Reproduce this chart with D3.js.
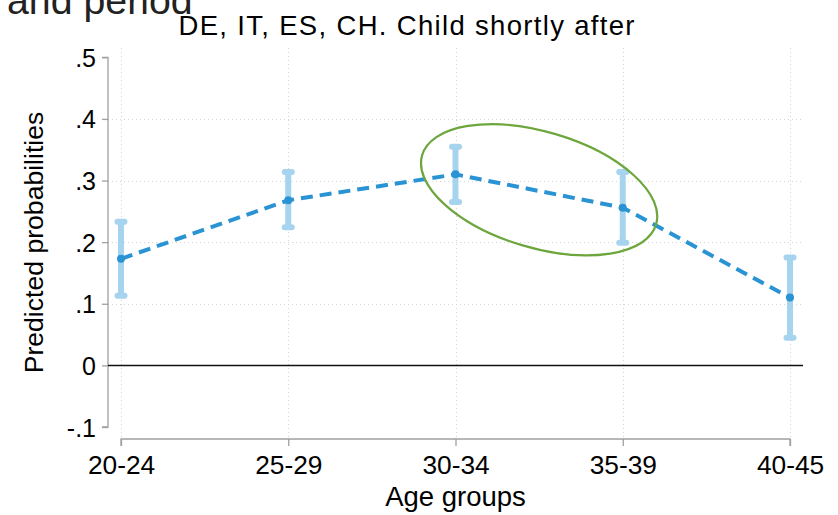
<!DOCTYPE html>
<html>
<head>
<meta charset="utf-8">
<script src="https://cdn.jsdelivr.net/npm/d3@7"></script>
<style>
  html, body { margin: 0; padding: 0; background: #fff; }
  svg { display: block; font-family: "Liberation Sans", Arial, Helvetica, sans-serif; }
</style>
</head>
<body>
<svg id="chart" width="838" height="515"></svg>
<script>
// Predicted probability of a child shortly after, by age group
const ageGroups = ["20-24", "25-29", "30-34", "35-39", "40-45"];
const predicted = [0.173, 0.268, 0.310, 0.256, 0.110];
const ciLower   = [0.113, 0.224, 0.265, 0.199, 0.045];
const ciUpper   = [0.233, 0.314, 0.355, 0.314, 0.175];
const yTicks = [-0.1, 0, 0.1, 0.2, 0.3, 0.4, 0.5];
const yGrid  = [0.1, 0.2, 0.3, 0.4];
// highlighted groups (encircled)
const highlight = ["30-34", "35-39"];
const highlightValue = 0.285;

const svg = d3.select("#chart");
const font = "Liberation Sans, Arial, sans-serif";

const plot = { left: 108, right: 803, top: 48, bottom: 439 };

const x = d3.scalePoint().domain(ageGroups).range([121, 790]);
const y = d3.scaleLinear().domain([-0.1, 0.5]).range([427, 57.3]);

// Stata-style labels: ".1", "-.1", "0"
const fmt = v => v === 0 ? "0" : d3.format(".1f")(Math.abs(v)).replace(/^0\./, ".").replace(/^/, v < 0 ? "-" : "");

// gridlines
const grid = svg.append("g").attr("stroke", "#d4d4d4").attr("stroke-width", 1)
  .attr("stroke-dasharray", "1,3");
grid.selectAll("line.h").data(yGrid).join("line")
  .attr("x1", plot.left).attr("x2", plot.right)
  .attr("y1", d => Math.round(y(d)) + 0.5).attr("y2", d => Math.round(y(d)) + 0.5);
grid.selectAll("line.v").data(ageGroups).join("line")
  .attr("x1", d => Math.round(x(d)) + 0.5).attr("x2", d => Math.round(x(d)) + 0.5)
  .attr("y1", plot.top).attr("y2", plot.bottom);

// y axis
const yAxis = d3.axisLeft(y).tickValues(yTicks).tickFormat(fmt).tickSize(6).tickPadding(6);
const gy = svg.append("g").attr("transform", `translate(${plot.left},0)`).call(yAxis);
gy.select(".domain").attr("stroke", "#a0a0a0").attr("stroke-width", 1.3)
  .attr("d", `M-6,${y(0.5)}H0V${y(-0.1)}H-6`);
gy.selectAll(".tick line").attr("stroke", "#a0a0a0").attr("stroke-width", 1.3);
gy.selectAll(".tick text").attr("fill", "#000").attr("font-size", 25)
  .attr("font-family", font).attr("dy", "0.36em");

// x axis
const xAxis = d3.axisBottom(x).tickSize(7).tickPadding(9);
const gx = svg.append("g").attr("transform", `translate(0,${plot.bottom})`).call(xAxis);
gx.select(".domain").attr("stroke", "#a0a0a0").attr("stroke-width", 1.3)
  .attr("d", `M${x(ageGroups[0])},7V0H${x(ageGroups[ageGroups.length-1])}V7`);
gx.selectAll(".tick line").attr("stroke", "#a0a0a0").attr("stroke-width", 1.3);
gx.selectAll(".tick text").attr("fill", "#000").attr("font-size", 26.3)
  .attr("font-family", font);

// zero reference line
svg.append("line")
  .attr("x1", plot.left).attr("x2", plot.right)
  .attr("y1", y(0)).attr("y2", y(0))
  .attr("stroke", "#111").attr("stroke-width", 1.5);

// confidence intervals
const ciColor = "#a6d3ee";
const ci = svg.append("g").attr("stroke", ciColor).attr("stroke-width", 6);
ci.selectAll("line.bar").data(ageGroups).join("line")
  .attr("x1", d => x(d)).attr("x2", d => x(d))
  .attr("y1", (d, i) => y(ciLower[i])).attr("y2", (d, i) => y(ciUpper[i]));
ci.selectAll("line.capU").data(ageGroups).join("line")
  .attr("stroke-linecap", "round")
  .attr("x1", d => x(d) - 3.5).attr("x2", d => x(d) + 3.5)
  .attr("y1", (d, i) => y(ciUpper[i])).attr("y2", (d, i) => y(ciUpper[i]));
ci.selectAll("line.capL").data(ageGroups).join("line")
  .attr("stroke-linecap", "round")
  .attr("x1", d => x(d) - 3.5).attr("x2", d => x(d) + 3.5)
  .attr("y1", (d, i) => y(ciLower[i])).attr("y2", (d, i) => y(ciLower[i]));

// predicted probabilities line
const lineColor = "#2a93d4";
const line = d3.line().x(d => x(d[0])).y(d => y(d[1]));
svg.append("path")
  .datum(ageGroups.map((g, i) => [g, predicted[i]]))
  .attr("d", line)
  .attr("fill", "none")
  .attr("stroke", lineColor)
  .attr("stroke-width", 4)
  .attr("stroke-dasharray", "12,7");
svg.append("g").selectAll("circle").data(ageGroups).join("circle")
  .attr("cx", d => x(d)).attr("cy", (d, i) => y(predicted[i]))
  .attr("r", 4).attr("fill", lineColor);

// ellipse around the highlighted groups
const ex = (x(highlight[0]) + x(highlight[1])) / 2;
const ey = y(highlightValue);
svg.append("ellipse")
  .attr("cx", 0).attr("cy", 0).attr("rx", 122).attr("ry", 58)
  .attr("transform", `translate(${ex},${ey}) rotate(16.5)`)
  .attr("fill", "none").attr("stroke", "#6ca63c").attr("stroke-width", 2.2);

// titles
svg.append("text")
  .attr("x", 7).attr("y", 14)
  .attr("font-size", 39.3).attr("fill", "#222").attr("font-family", font)
  .text("and period");
svg.append("text")
  .attr("x", 406.5).attr("y", 35)
  .attr("text-anchor", "middle").attr("font-size", 27.5).attr("fill", "#000")
  .attr("font-family", font)
  .attr("textLength", 456).attr("lengthAdjust", "spacing")
  .text("DE, IT, ES, CH. Child shortly after");
svg.append("text")
  .attr("transform", `translate(43,242.5) rotate(-90)`)
  .attr("text-anchor", "middle").attr("font-size", 26.6).attr("fill", "#000")
  .attr("font-family", font)
  .text("Predicted probabilities");
svg.append("text")
  .attr("x", 455.5).attr("y", 506)
  .attr("text-anchor", "middle").attr("font-size", 27.5).attr("fill", "#000")
  .attr("font-family", font)
  .text("Age groups");
</script>
</body>
</html>
